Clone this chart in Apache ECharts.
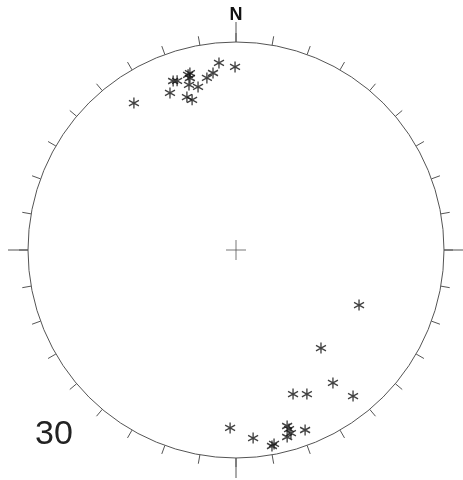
<!DOCTYPE html>
<html>
<head>
<meta charset="utf-8">
<script src="https://cdn.jsdelivr.net/npm/echarts@6/dist/echarts.min.js"></script>
<style>
html, body { margin: 0; background: #fff; }
#chart { width: 463px; height: 480px; }
</style>
</head>
<body>
<div id="chart"></div>
<script>
// poles: azimuth (deg, clockwise from N) and distance from centre (1 = primitive circle)
var azimuth = [359.7, 354.8, 352.6, 350.4, 345.4, 345.0, 339.6, 340.8, 344.1, 346.9,
	337.2, 342.2, 343.7, 325.2, 344.7,
	114.1, 139.1, 143.9, 158.4, 153.8, 141.3, 181.9, 174.8, 169.6, 168.9,
	163.8, 163.3, 164.7, 159.0, 163.5];
var dist = [0.880, 0.903, 0.858, 0.839, 0.879, 0.856, 0.867, 0.861, 0.825, 0.805,
	0.819, 0.772, 0.752, 0.860, 0.873,
	0.648, 0.624, 0.791, 0.745, 0.772, 0.900, 0.856, 0.908, 0.958, 0.950,
	0.881, 0.919, 0.932, 0.927, 0.898];
var cardinals = ['N', 'E', 'S', 'W'];
var countLabel = '30';

var poles = azimuth.map(function (a, i) { return [dist[i], a]; });

var star = 'path://M0,-5.5 L0,5.5 M-4.76,-2.75 L4.76,2.75 M-4.76,2.75 L4.76,-2.75';
var cross = 'path://M0,-10 L0,10 M-10,0 L10,0';

var myChart = echarts.init(document.getElementById('chart'));
var option = {
	backgroundColor: '#fff',
	animation: false,
	polar: [
		{ center: [236, 250], radius: 208 },
		{ center: [236, 250], radius: 208 }
	],
	angleAxis: [
		{
			polarIndex: 0,
			type: 'value',
			min: 0,
			max: 360,
			interval: 10,
			startAngle: 90,
			clockwise: true,
			axisLine: { lineStyle: { color: '#555', width: 1 } },
			axisTick: { length: 9, lineStyle: { color: '#555', width: 1 } },
			axisLabel: { show: false },
			splitLine: { show: false }
		},
		{
			// one category per quadrant, centred on N, E, S, W
			polarIndex: 1,
			type: 'category',
			data: cardinals,
			startAngle: 135,
			clockwise: true,
			axisLine: { show: false },
			axisTick: {
				alignWithLabel: true,
				length: 20,
				lineStyle: { color: '#555', width: 1 }
			},
			axisLabel: {
				margin: 18,
				color: '#111',
				fontFamily: 'Liberation Sans',
				fontWeight: 'bold',
				fontSize: 18,
				formatter: function (v) { return v === 'N' ? v : ''; }
			},
			splitLine: { show: false }
		}
	],
	radiusAxis: [
		{ polarIndex: 0, min: 0, max: 1, show: false },
		{ polarIndex: 1, min: 0, max: 1, show: false }
	],
	graphic: [{
		type: 'text',
		left: 35,
		top: 418,
		style: {
			text: countLabel,
			fontSize: 34,
			fontFamily: 'Liberation Sans',
			fill: '#222'
		}
	}],
	series: [
		{
			type: 'scatter',
			coordinateSystem: 'polar',
			polarIndex: 0,
			symbol: star,
			symbolSize: [10, 11],
			itemStyle: { color: 'none', borderColor: '#111', borderWidth: 1.4 },
			data: poles
		},
		{
			type: 'scatter',
			coordinateSystem: 'polar',
			polarIndex: 0,
			symbol: cross,
			symbolSize: 20,
			itemStyle: { color: 'none', borderColor: '#555', borderWidth: 1 },
			data: [[0, 0]]
		}
	]
};
myChart.setOption(option);
</script>
</body>
</html>
